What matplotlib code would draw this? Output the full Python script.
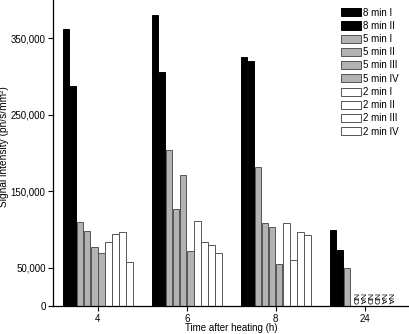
import numpy as np
import matplotlib
matplotlib.use('Agg')
import matplotlib.pyplot as plt

plt.rcParams['font.family'] = ['Liberation Sans', 'DejaVu Sans']
plt.rcParams['font.size'] = 7

# Time points and series
times = ['4', '6', '8', '24']
series = ['8 min I', '8 min II', '5 min I', '5 min II', '5 min III', '5 min IV',
          '2 min I', '2 min II', '2 min III', '2 min IV']

# signal values per series (4h, 6h, 8h, 24h); nan = not measured
min8_I = [362000, 380000, 325500, 99000]
min8_II = [287500, 306000, 320000, 72500]
min5_I = [109500, 204000, 181500, 49500]
min5_II = [98000, 126500, 109000, np.nan]
min5_III = [77000, 171000, 103500, np.nan]
min5_IV = [69000, 72000, 54500, np.nan]
min2_I = [84000, 110500, 108500, np.nan]
min2_II = [94000, 84000, 60000, np.nan]
min2_III = [97000, 80000, 96500, np.nan]
min2_IV = [57000, 69000, 92500, np.nan]

# labels written on the missing 24h bars
missing_24 = ['ND', 'NA', 'ND', 'ND', 'NA', 'NA', '']

values = [min8_I, min8_II, min5_I, min5_II, min5_III, min5_IV,
          min2_I, min2_II, min2_III, min2_IV]
faces = ['black'] * 2 + ['#b3b3b3'] * 4 + ['white'] * 4
edges = ['black'] * 2 + ['#555555'] * 4 + ['#555555'] * 4

fig = plt.figure(figsize=(4.1, 3.34), dpi=100)
ax = fig.add_axes([0.130, 0.084, 0.868, 0.916])

x = np.arange(len(times))
pitch = 0.079
width = 0.073
for i, (name, vals) in enumerate(zip(series, values)):
    pos = x + (i - 4.5) * pitch
    ax.bar(pos, vals, width, color=faces[i], edgecolor=edges[i],
           linewidth=0.7, label=name)

# ND / NA markers at 24 h
for j, txt in enumerate(missing_24):
    pos = x[3] + (j + 3 - 4.5) * pitch
    ax.text(pos, 1500, txt, rotation=270, fontsize=6, ha='center', va='bottom')

ax.set_xlim(-0.5, 3.5)
ax.set_ylim(0, 400000)
ax.set_yticks([0, 50000, 150000, 250000, 350000])
ax.set_yticklabels(['0', '50,000', '150,000', '250,000', '350,000'])
ax.set_xticks(x)
ax.set_xticklabels(times)
ax.tick_params(length=3.5, width=0.8, pad=2)

for s in ['top', 'right']:
    ax.spines[s].set_visible(False)
for s in ['left', 'bottom']:
    ax.spines[s].set_linewidth(0.9)

ax.set_xlabel('Time after heating (h)', labelpad=-0.3)
ax.set_ylabel('Signal intensity (ph/s/mm²)', fontsize=7.3)
ax.yaxis.set_label_coords(-0.125, 0.52)

ax.legend(loc='upper left', bbox_to_anchor=(0.808, 0.975), frameon=False,
          borderpad=0, borderaxespad=0, handlelength=2.1, handleheight=0.9,
          handletextpad=0.2, labelspacing=0.33, fontsize=7)

fig.savefig('out.png', dpi=100)
